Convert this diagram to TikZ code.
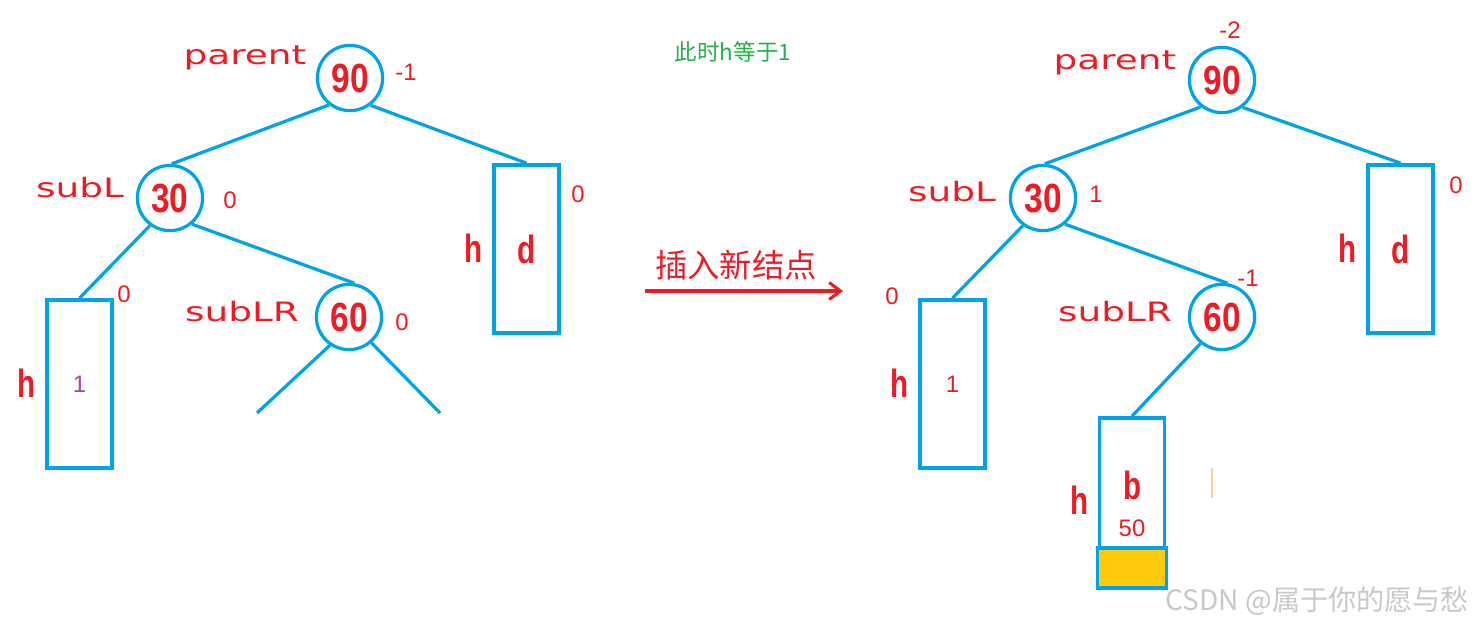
\documentclass[tikz,border=0pt]{standalone}
\usepackage{fontspec}
\setmainfont{Liberation Sans}
\newfontfamily\cjk{Noto Sans CJK SC}
\newfontfamily\tagfont[FakeStretch=1.4]{DejaVu Sans}
\newfontfamily\keyfont[FakeStretch=0.82]{Liberation Sans}
\newfontfamily\hfont[FakeStretch=0.75]{Liberation Sans}
\usetikzlibrary{math}
\usetikzlibrary{arrows.meta}
\definecolor{myblue}{RGB}{0,162,232}
\definecolor{myred}{RGB}{237,28,36}
\definecolor{mygreen}{RGB}{34,177,76}
\definecolor{myyellow}{RGB}{255,201,14}
\definecolor{mypurple}{RGB}{163,73,164}
\definecolor{mygray}{RGB}{200,200,200}

\tikzset{
  keynode/.style={circle, draw=myblue, line width=2.3pt, minimum size=1.63cm, inner sep=0pt,
    text=myred, font=\keyfont\bfseries\fontsize{29}{29}\selectfont},
  subtree/.style={rectangle, draw=myblue, line width=2.6pt, minimum width=1.63cm,
    minimum height=4.2cm, inner sep=0pt, text=myred, font=\hfont\bfseries\fontsize{28}{28}\selectfont},
  branch/.style={draw=myblue, line width=2.3pt},
  tagname/.style={text=myred, font=\tagfont\fontsize{19}{19}\selectfont},
  hgt/.style={text=myred, font=\hfont\bfseries\fontsize{28}{28}\selectfont},
  bf/.style={text=myred, font=\fontsize{17}{17}\selectfont},
}

\begin{document}
\begin{tikzpicture}[x=0.025cm, y=-0.025cm]
\useasboundingbox (0,0) rectangle (1477,628);

%%%%%%%%%%   before insertion
\node[keynode] (l90) at (350,78) {90};
\node[tagname] (lparent) at (245,58) {parent};
\node[bf] (lbf90) at (406,72) {-1};

\node[keynode] (l30) at (170,198) {30};
\node[tagname] (lsubl) at (80,188) {subL};
\node[bf] (lbf30) at (230,200) {0};

\node[keynode] (l60) at (349,317) {60};
\node[tagname] (lsublr) at (242,312) {subLR};
\node[bf] (lbf60) at (402,322) {0};

\node[subtree] (ld) at (526.5,249) {d};
\node[hgt] (lhd) at (474,248) {h};
\node[bf] (lbfd) at (578,194) {0};

\node[subtree, text=mypurple, font=\fontsize{17}{17}\selectfont] (la) at (79.5,384) {1};
\node[hgt] (lha) at (27,383) {h};
\node[bf] (lbfa) at (124,294) {0};

\coordinate (lb) at (257,413);
\coordinate (lc) at (440,413);

\draw[branch] (l90.232) -- (l30.87);
\draw[branch] (l90.307) -- (ld.north);
\draw[branch] (l30.234) -- (la.north);
\draw[branch] (l30.310) -- (l60.81);
\draw[branch] (l60.236) -- (lb);
\draw[branch] (l60.311) -- (lc);

%%%%%%%%%%   insertion
\node[text=mygreen, font=\cjk\fontsize{16}{16}\selectfont] (note) at (733,52) {此时h等于1};
\node[text=myred, font=\cjk\fontsize{23}{23}\selectfont] (insert) at (736,265) {插入新结点};
\coordinate (arrowA) at (645,291);
\coordinate (arrowB) at (843,291);
\draw[myred, line width=2.2pt, -{Straight Barb[length=8pt, width=12pt]}] (arrowA) -- (arrowB);

%%%%%%%%%%   after insertion
\node[keynode] (r90) at (1222,80) {90};
\node[tagname] (rparent) at (1115,63) {parent};
\node[bf] (rbf90) at (1230,30) {-2};

\node[keynode] (r30) at (1043,198) {30};
\node[tagname] (rsubl) at (952,192) {subL};
\node[bf] (rbf30) at (1096,194) {1};

\node[keynode] (r60) at (1222,317) {60};
\node[tagname] (rsublr) at (1115,312) {subLR};
\node[bf] (rbf60) at (1248,278) {-1};

\node[subtree] (rd) at (1400.5,249) {d};
\node[hgt] (rhd) at (1347,248) {h};
\node[bf] (rbfd) at (1456,185) {0};

\node[subtree, text=myred, font=\fontsize{17}{17}\selectfont] (ra) at (952.5,384) {\raisebox{-6pt}{1}};
\node[hgt] (rha) at (900,383) {h};
\node[bf] (rbfa) at (892,296) {0};

\node[subtree] (rb) at (1132,502) {};
\node[hgt] (rbb) at (1133,485) {b};
\node[bf] (rbf50) at (1132,528) {50};
\node[hgt] (rhb) at (1080,500) {h};
\draw[line width=2.6pt, draw=myblue, fill=myyellow] (rb.south west) rectangle ([yshift=1cm]rb.south east);

\draw[branch] (r90.232) -- (r30.87);
\draw[branch] (r90.307) -- (rd.north);
\draw[branch] (r30.234) -- (ra.north);
\draw[branch] (r30.310) -- (r60.81);
\draw[branch] (r60.231) -- (rb.north);

\draw[orange!40, line width=1pt] (1212,468) -- (1212,498);

\node[text=mygray, font=\cjk\fontsize{20}{20}\selectfont, anchor=east] (mark) at (1474,601) {CSDN @属于你的愿与愁};
\end{tikzpicture}
\end{document}
